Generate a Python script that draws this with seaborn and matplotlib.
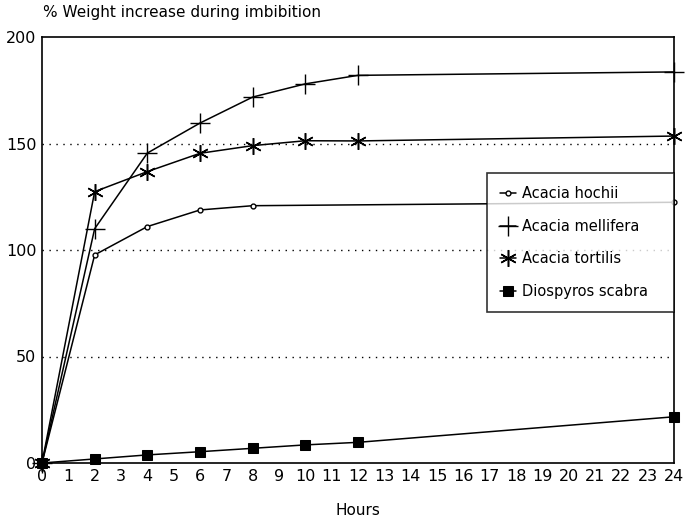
import matplotlib
matplotlib.use("Agg")
import matplotlib.pyplot as plt
import seaborn as sns
import pandas as pd

# ---- data ----
hochii_hours = [0, 2, 4, 6, 8, 24]
hochii_vals = [0, 97.7, 111, 118.8, 120.8, 122.4]

mellifera_hours = [0, 2, 4, 6, 8, 10, 12, 24]
mellifera_vals = [0, 110, 145.5, 159.6, 171.8, 178, 182, 183.6]

tortilis_hours = [0, 2, 4, 6, 8, 10, 12, 24]
tortilis_vals = [0, 127.4, 136.8, 145.4, 149, 151.3, 151.2, 153.5]

diospyros_hours = [0, 2, 4, 6, 8, 10, 12, 24]
diospyros_vals = [0, 1.9, 3.8, 5.3, 6.9, 8.5, 9.7, 21.7]

series_names = ["Acacia hochii", "Acacia mellifera", "Acacia tortilis", "Diospyros scabra"]
x_ticks = list(range(0, 25))
y_ticks = [0, 50, 100, 150, 200]
grid_levels = [50, 100, 150]

sns.set_theme(style="white")
plt.rcParams["font.family"] = ["DejaVu Sans"]

fig = plt.figure(figsize=(6.91, 5.28), dpi=100)
ax = fig.add_axes([42 / 691, 1 - 463 / 528, (674 - 42) / 691, (463 - 37) / 528])

for lvl in grid_levels:
    ax.axhline(lvl, color="black", linestyle=(0, (1, 4)), linewidth=1.0, zorder=0)

styles = [
    dict(marker="o", markersize=3.5, markerfacecolor="white", markeredgewidth=1.0),
    dict(marker="+", markersize=14, markeredgewidth=1.0),
    dict(marker=(6, 2, 0), markersize=12, markeredgewidth=1.1),
    dict(marker="s", markersize=7, markerfacecolor="black"),
]
data = [
    (hochii_hours, hochii_vals),
    (mellifera_hours, mellifera_vals),
    (tortilis_hours, tortilis_vals),
    (diospyros_hours, diospyros_vals),
]
for name, (hx, hy), st in zip(series_names, data, styles):
    df = pd.DataFrame({"Hours": hx, "val": hy})
    sns.lineplot(data=df, x="Hours", y="val", ax=ax, color="black", linewidth=1.1,
                 markeredgecolor="black", label=name, clip_on=False, **st)

ax.set_xlim(0, 24)
ax.set_ylim(0, 200)
ax.set_xticks(x_ticks)
ax.set_yticks(y_ticks)
ax.tick_params(axis="both", length=0, labelsize=11.5, colors="black", pad=4)
for s in ax.spines.values():
    s.set_color("black")
    s.set_linewidth(1.2)
    s.set_visible(True)

ax.set_xlabel("Hours", fontsize=11, labelpad=14, color="black")
ax.set_ylabel("")
fig.text(43 / 691, 1 - 12 / 528, "% Weight increase during imbibition", fontsize=11,
         ha="left", va="center", color="black")

leg = ax.legend(loc="lower left",
                bbox_to_anchor=((487 - 42) / 632, (463 - 312) / 426, (674 - 487) / 632, 137 / 426),
                mode="expand", frameon=True, fancybox=False, edgecolor="black", fontsize=10.5,
                handlelength=1.1, handletextpad=0.4, labelspacing=1.2,
                borderpad=0.9, borderaxespad=0)
leg.get_frame().set_linewidth(1.2)
leg.set_zorder(5)
for t in leg.get_texts():
    t.set_color("black")

fig.savefig("out.png", dpi=100, facecolor="white")
